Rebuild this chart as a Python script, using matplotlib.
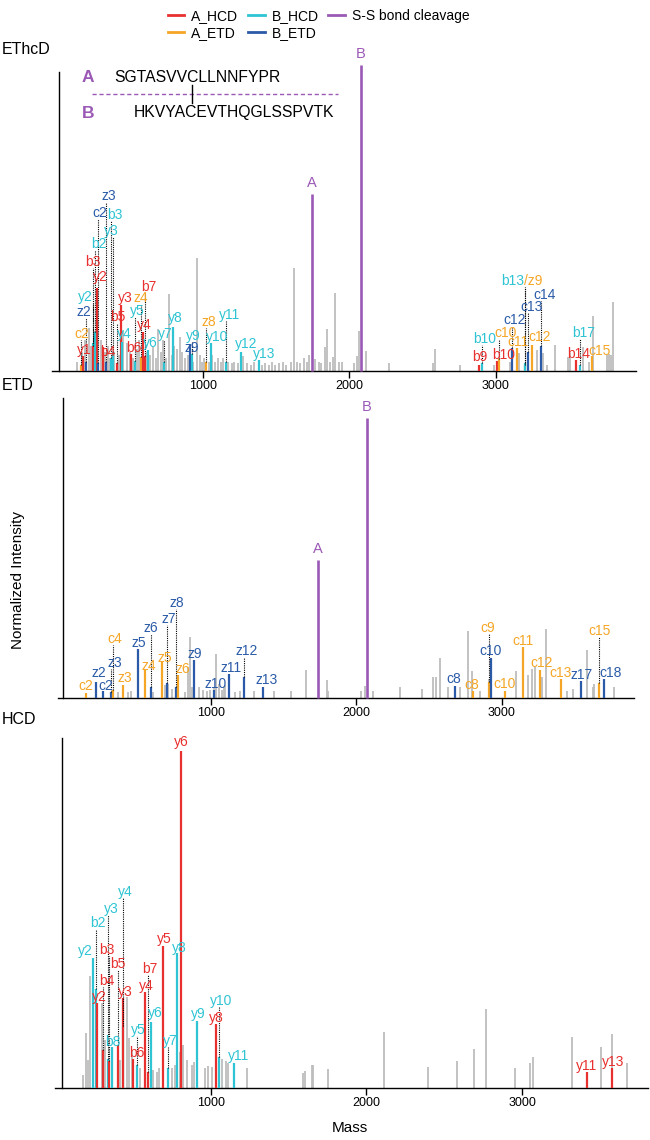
import matplotlib
matplotlib.use('Agg')
import matplotlib.pyplot as plt
from matplotlib.lines import Line2D

plt.rcParams['font.family'] = ['Liberation Sans', 'DejaVu Sans']

# ---------------- data ----------------
series_names = ['A_HCD', 'A_ETD', 'B_HCD', 'B_ETD']
series_colors = {'A_HCD': '#E8302E', 'A_ETD': '#F5A626',
                 'B_HCD': '#2EC4D3', 'B_ETD': '#2B5BA8'}
ss_color = '#9B59B6'
gray_color = '#BDBDBD'
x_ticks = [1000, 2000, 3000]

# EThcD ---------------------------------------------------
ethcd_ions = [  # (series, label, mass, intensity)
    ('A_ETD', 'c2', 164, 1.9), ('A_HCD', 'y1', 178, 4.9), ('B_ETD', 'z2', 200, 2.8),
    ('B_HCD', 'y2', 250, 9.1), ('A_HCD', 'y2', 278, 27.0), ('A_HCD', 'b3', 245, 8.0),
    ('B_HCD', 'b2', 262, 12.8), ('B_ETD', 'c2', 285, 2.5), ('B_ETD', 'z3', 335, 3.0),
    ('B_HCD', 'b3', 372, 4.0), ('B_HCD', 'y3', 385, 6.0), ('A_HCD', 'b4', 318, 7.9),
    ('A_HCD', 'b5', 410, 2.5), ('A_HCD', 'y3', 437, 21.5), ('B_HCD', 'y4', 444, 9.5),
    ('A_HCD', 'b6', 506, 5.4), ('B_HCD', 'y5', 535, 3.3), ('A_ETD', 'z4', 574, 4.6),
    ('A_HCD', 'y4', 588, 12.8), ('A_HCD', 'b7', 604, 4.7), ('B_HCD', 'y6', 626, 6.8),
    ('B_HCD', 'y7', 734, 2.8), ('B_HCD', 'y8', 793, 14.4), ('B_ETD', 'z9', 911, 8.7),
    ('B_HCD', 'y9', 925, 5.5), ('A_ETD', 'z8', 1020, 2.9), ('B_HCD', 'y10', 1055, 9.0),
    ('B_HCD', 'y11', 1155, 2.9), ('B_HCD', 'y12', 1258, 6.2), ('B_HCD', 'y13', 1385, 3.5),
    ('A_HCD', 'b9', 2885, 2.0), ('B_HCD', 'b10', 2905, 2.4), ('A_HCD', 'b10', 3012, 3.3),
    ('A_ETD', 'c10', 3025, 3.8), ('B_ETD', 'c12', 3110, 7.5), ('A_ETD', 'c11', 3144, 7.5),
    ('A_ETD', '/z9', 3201, 2.0), ('B_HCD', 'b13', 3201, 2.6), ('B_ETD', 'c13', 3219, 6.2),
    ('A_ETD', 'c12', 3251, 8.4), ('B_ETD', 'c14', 3308, 8.1), ('A_HCD', 'b14', 3547, 3.5),
    ('B_HCD', 'b17', 3577, 1.9), ('A_ETD', 'c15', 3661, 4.8),
]
ethcd_label_xy = [
    (173, 12.0), (189, 6.8), (189, 19.3), (193, 24.1), (296, 30.5), (250, 35.6),
    (291, 41.4), (296, 51.5), (353, 57.1), (398, 51.0), (376, 45.8), (353, 6.2),
    (417, 17.7), (467, 23.7), (460, 12.0), (530, 7.3), (551, 19.5), (576, 23.7),
    (599, 15.0), (633, 27.3), (638, 9.0), (740, 12.0), (808, 17.1), (922, 7.3),
    (934, 11.3), (1043, 16.0), (1094, 11.1), (1185, 18.2), (1294, 8.7), (1417, 5.5),
    (2889, 4.6), (2928, 10.3), (3053, 5.1), (3071, 12.4), (3133, 16.6), (3150, 9.3),
    (3258, 29.4), (3120, 29.4), (3247, 20.7), (3304, 11.1), (3338, 24.8), (3568, 5.5),
    (3604, 12.2), (3708, 6.4),
]
ethcd_ss = [('A', 1743, 57.9), ('B', 2080, 100.0)]
ethcd_gray = [
    (140, 3), (175, 6), (195, 10), (222, 14), (236, 8), (255, 13), (275, 5), (305, 10),
    (328, 6), (350, 8), (365, 4), (395, 6), (425, 5), (452, 13), (478, 9), (498, 6),
    (520, 4), (548, 7), (565, 10), (590, 9), (615, 6), (640, 5), (660, 8), (680, 4),
    (695, 13.5), (712, 6), (730, 10), (750, 4), (770, 25), (785, 5), (805, 8), (825, 7),
    (843, 11), (860, 6), (880, 4), (900, 5), (935, 3), (957, 36.8), (980, 5), (995, 3),
    (1010, 4), (1040, 3), (1065, 5), (1080, 3), (1100, 4), (1120, 3), (1140, 4), (1170, 3),
    (1195, 2.5), (1215, 3), (1240, 2.5), (1276, 4.8), (1300, 2.5), (1325, 2), (1350, 3),
    (1405, 2), (1425, 2.5), (1450, 2), (1470, 3), (1490, 2), (1520, 2.5), (1545, 3),
    (1570, 2), (1600, 3), (1622, 33.7), (1645, 3), (1665, 2.5), (1690, 4), (1710, 3),
    (1727, 5.1), (1766, 3.8), (1790, 3), (1810, 2.5), (1836, 7.9), (1845, 13.5), (1870, 3),
    (1891, 4.6), (1904, 25.5), (1930, 3), (1950, 2.7), (2035, 2.5), (2050, 4.9),
    (2068, 13.1), (2114, 6.4), (2273, 2.6), (2572, 2.5), (2586, 7), (2757, 2), (2990, 2),
    (3100, 3), (3162, 5.7), (3281, 6.8), (3326, 5.7), (3349, 1.9), (3406, 8.4), (3495, 4.5),
    (3509, 5.7), (3595, 7.9), (3640, 3), (3664, 17.9), (3760, 5), (3775, 5.5), (3789, 5.1),
    (3805, 22.6),
]

# ETD -----------------------------------------------------
etd_ions = [
    ('A_ETD', 'c2', 143, 1.7), ('B_ETD', 'z2', 212, 5.8), ('B_ETD', 'c2', 262, 2.6),
    ('B_ETD', 'z3', 313, 2.3), ('A_ETD', 'c4', 330, 3.0), ('A_ETD', 'z3', 399, 4.6),
    ('B_ETD', 'z5', 498, 17.4), ('A_ETD', 'z4', 548, 10.0), ('B_ETD', 'z6', 588, 4.0),
    ('A_ETD', 'z5', 667, 13.0), ('B_ETD', 'z7', 700, 5.2), ('B_ETD', 'z8', 759, 4.0),
    ('A_ETD', 'z6', 777, 8.2), ('B_ETD', 'z9', 885, 13.6), ('B_ETD', 'z10', 1025, 2.9),
    ('B_ETD', 'z11', 1128, 8.6), ('B_ETD', 'z12', 1229, 7.4), ('B_ETD', 'z13', 1362, 4.0),
    ('B_ETD', 'c8', 2680, 4.3), ('A_ETD', 'c8', 2801, 2.5), ('A_ETD', 'c9', 2909, 5.8),
    ('B_ETD', 'c10', 2923, 14.2), ('A_ETD', 'c10', 3023, 2.6), ('A_ETD', 'c11', 3145, 18.1),
    ('A_ETD', 'c12', 3260, 10.0), ('A_ETD', 'c13', 3408, 6.7), ('B_ETD', 'z17', 3546, 6.2),
    ('A_ETD', 'c15', 3667, 5.5), ('B_ETD', 'c18', 3702, 6.7),
]
etd_label_xy = [
    (143, 4.3), (232, 8.8), (276, 4.4), (342, 12.4), (342, 21.0), (411, 7.0),
    (507, 19.5), (571, 11.4), (588, 24.9), (686, 14.4), (709, 28.1), (770, 33.8),
    (807, 10.3), (892, 15.6), (1036, 5.0), (1139, 10.6), (1247, 16.9), (1385, 6.4),
    (2671, 6.8), (2795, 4.6), (2905, 24.9), (2923, 16.9), (3019, 5.0), (3145, 20.4),
    (3271, 12.6), (3404, 8.8), (3546, 8.2), (3672, 23.9), (3748, 9.0),
]
etd_ss = [('A', 1739, 49.3), ('B', 2072, 100.0)]
etd_gray = [
    (360, 2), (432, 2), (455, 2.6), (604, 2.3), (662, 3), (686, 4.6), (709, 5), (732, 3.3),
    (824, 2), (846, 11.2), (858, 21.9), (869, 4), (921, 3.8), (950, 3), (973, 2.5),
    (996, 3), (1020, 4), (1039, 15.7), (1054, 5), (1077, 3), (1092, 3.8), (1100, 4.5),
    (1168, 2), (1198, 2.5), (1295, 2.5), (1434, 2.6), (1553, 2.6), (1653, 10), (1797, 6.4),
    (1808, 2.6), (2034, 2.6), (2061, 4.4), (2113, 2.6), (2303, 4), (2455, 3.2),
    (2527, 7.4), (2545, 7.6), (2579, 14.3), (2634, 3.8), (2713, 4), (2771, 24),
    (2798, 9.8), (2850, 2.6), (2913, 6.8), (3100, 9.8), (3177, 8.3), (3211, 10.4),
    (3229, 11), (3277, 7.4), (3303, 24.6), (3448, 2.6), (3487, 3.2), (3587, 17.1),
    (3624, 3.8), (3637, 5), (3769, 3.8),
]

# HCD -----------------------------------------------------
hcd_ions = [
    ('A_HCD', 'y6', 809, 100.0), ('A_HCD', 'y5', 696, 42.1), ('B_HCD', 'y8', 786, 39.9),
    ('B_HCD', 'y4', 439, 18.4), ('B_HCD', 'y3', 342, 8.5), ('B_HCD', 'b2', 261, 29.3),
    ('B_HCD', 'y2', 242, 38.7), ('A_HCD', 'b3', 345, 8.1), ('A_HCD', 'b5', 403, 12.7),
    ('A_HCD', 'b4', 310, 11.3), ('A_HCD', 'y2', 272, 25.1), ('A_HCD', 'y3', 435, 26.6),
    ('A_HCD', 'b7', 599, 4.8), ('A_HCD', 'y4', 578, 28.4), ('B_HCD', 'y6', 614, 19.7),
    ('B_HCD', 'y5', 529, 6.8), ('A_HCD', 'b6', 503, 8.5), ('B_HCD', 'b8', 364, 12.2),
    ('B_HCD', 'y7', 728, 5.8), ('B_HCD', 'y9', 914, 20.0), ('B_HCD', 'y10', 1053, 9.1),
    ('A_HCD', 'y8', 1034, 19.0), ('B_HCD', 'y11', 1152, 7.5), ('A_HCD', 'y11', 3419, 4.8),
    ('A_HCD', 'y13', 3575, 5.8),
]
hcd_label_xy = [
    (809, 102.6), (700, 44.1), (798, 41.4), (450, 58.2), (364, 53.0), (278, 48.8),
    (193, 40.7), (332, 40.9), (403, 36.8), (332, 31.8), (285, 26.9), (450, 28.4),
    (610, 35.2), (584, 30.3), (642, 22.1), (535, 17.2), (525, 10.3), (374, 13.7),
    (738, 14.0), (920, 21.9), (1070, 25.9), (1038, 20.7), (1182, 9.5), (3414, 6.5),
    (3586, 7.7),
]
hcd_ss = []
hcd_gray = [
    (182, 4), (199, 16.2), (214, 8.4), (225, 33.2), (300, 25.1), (321, 14.2), (418, 8.4),
    (465, 26.9), (478, 14.7), (493, 11.3), (546, 5.8), (632, 5.3), (653, 4.8), (670, 5.8),
    (749, 5.8), (771, 6.8), (803, 10.8), (820, 12.7), (846, 8.3), (878, 6.8), (893, 7.8),
    (910, 5.3), (963, 5.8), (985, 6.5), (1006, 6.3), (1070, 8.7), (1098, 8), (1113, 7.3),
    (1235, 5.8), (1591, 4.5), (1605, 5), (1649, 6.8), (1660, 6.8), (1751, 5.5),
    (2115, 16.7), (2394, 6.1), (2580, 8), (2693, 11.5), (2768, 23.3), (2954, 5.8),
    (3051, 7.5), (3072, 9.3), (3318, 15.2), (3505, 12.1), (3575, 15.9), (3676, 7.3),
]

seq_a = 'SGTASVVCLLNNFYPR'
seq_b = 'HKVYACEVTHQGLSSPVTK'

# ---------------- layout ----------------
W, H = 650, 1140
fig = plt.figure(figsize=(W / 100, H / 100), dpi=100)


def fx(x):
    return x / W


def fy(y):
    return 1 - y / H


panels = [
    dict(title='EThcD', title_y=50, box=(52, 72, 636, 370.7), xlim=(-32, 3960), ytop=97.7,
         spine=16, ions=ethcd_ions, lab=ethcd_label_xy, ss=ethcd_ss, gray=ethcd_gray),
    dict(title='ETD', title_y=385, box=(58, 398, 634, 698), xlim=(-50, 3909), ytop=107.1,
         spine=-15, ions=etd_ions, lab=etd_label_xy, ss=etd_ss, gray=etd_gray),
    dict(title='HCD', title_y=720, box=(55, 738, 648, 1088), xlim=(0, 3809), ytop=103.8,
         spine=45, ions=hcd_ions, lab=hcd_label_xy, ss=hcd_ss, gray=hcd_gray),
]

LABEL_FS = 10

for p in panels:
    l, t, r, b = p['box']
    ax = fig.add_axes([fx(l), fy(b), (r - l) / W, (b - t) / H])
    ax.set_xlim(*p['xlim'])
    ax.set_ylim(0, p['ytop'])
    ppu = (b - t) / p['ytop']
    for s in ['top', 'right']:
        ax.spines[s].set_visible(False)
    ax.spines['left'].set_position(('data', p['spine']))
    ax.spines['left'].set_linewidth(1.0)
    ax.spines['bottom'].set_linewidth(1.0)
    ax.set_yticks([])
    ax.set_xticks(x_ticks)
    ax.tick_params(axis='x', direction='out', length=5, width=1.0, pad=1.5, labelsize=9)
    ax.patch.set_alpha(0)

    gm = [g[0] for g in p['gray']]
    gi = [g[1] for g in p['gray']]
    ax.vlines(gm, 0, gi, color=gray_color, lw=1.3, zorder=1)

    for (ser, lab, m, inten), (lm, li) in zip(p['ions'], p['lab']):
        c = series_colors[ser]
        ax.vlines(m, 0, inten, color=c, lw=1.6, zorder=3)
        gap = 6.0 / ppu
        if (li - inten) * ppu > 14:
            ax.plot([m, m], [inten, li - gap], color='black', ls=(0, (1, 1)), lw=0.8,
                    zorder=4, clip_on=False)
        ax.text(lm, li, lab, color=c, fontsize=LABEL_FS, ha='center', va='center',
                zorder=5, clip_on=False)

    for lab, m, inten in p['ss']:
        ax.vlines(m, 0, inten, color=ss_color, lw=1.9, zorder=4, clip_on=False)
        ax.annotate(lab, (m, inten), xytext=(0, 2.5), textcoords='offset points',
                    ha='center', va='bottom', color=ss_color, fontsize=10.5,
                    annotation_clip=False)

    fig.text(0.002, fy(p['title_y']), p['title'], fontsize=11.5, ha='left', va='center')

# sequence inset in EThcD panel
fig.text(fx(88), fy(78), 'A', color=ss_color, fontsize=12.5, fontweight='bold',
         ha='center', va='center')
fig.text(fx(88), fy(113), 'B', color=ss_color, fontsize=12.5, fontweight='bold',
         ha='center', va='center')
fig.text(fx(114), fy(78), seq_a, fontsize=11.3, ha='left', va='center')
fig.text(fx(134), fy(113), seq_b, fontsize=11.3, ha='left', va='center')
fig.add_artist(Line2D([fx(92), fx(338)], [fy(94), fy(94)], color=ss_color, lw=1.0,
                      ls=(0, (3, 2))))
fig.add_artist(Line2D([fx(192), fx(192)], [fy(85), fy(103)], color='black', lw=1.0))

# axis labels
fig.text(fx(18), fy(580), 'Normalized Intensity', rotation=90, fontsize=11,
         ha='center', va='center')
fig.text(fx(350), fy(1128), 'Mass', fontsize=11, ha='center', va='center')

# legend
handles = [Line2D([], [], color=series_colors[n], lw=2) for n in series_names]
handles.append(Line2D([], [], color=ss_color, lw=2))
labels = series_names + ['S-S bond cleavage']
fig.legend(handles, labels, ncol=3, loc='upper center', bbox_to_anchor=(0.49, 1.0),
           frameon=False, fontsize=10, handlelength=1.2, handletextpad=0.5,
           columnspacing=0.7, labelspacing=0.2, borderpad=0.15)

fig.savefig('out.png', dpi=100)
